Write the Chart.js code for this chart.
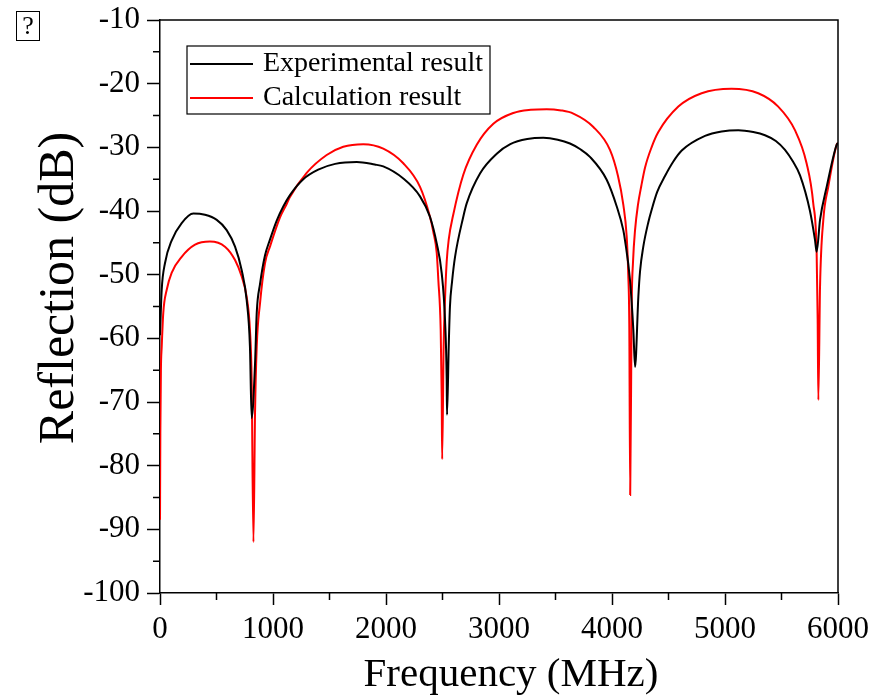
<!DOCTYPE html>
<html>
<head>
  <title>Reflection vs Frequency</title>
  <script src="https://cdn.jsdelivr.net/npm/chart.js"></script>
  <style>
    body { margin: 0; background: #fff; }
    .wrap { position: relative; width: 879px; height: 698px; }
    .mark { position: absolute; left: 16px; top: 11px; width: 22px; height: 28px; border: 1.5px solid #000;
            font: 26px "Liberation Serif", serif; line-height: 28px; text-align: center; }
  </style>
</head>
<body>
  <div class="wrap">
    <canvas id="chart" width="879" height="698"></canvas>
    <div class="mark">?</div>
  </div>

  <script>
    // values
    const expFreq = [0, 15, 44, 104, 192, 295, 398, 502, 590, 664, 723, 767, 796, 811,
      841, 856, 885, 929, 973, 1033, 1091, 1150, 1268, 1400, 1550, 1741, 1900, 1976, 2153, 2301, 2389, 2449, 2493, 2522, 2537, 2540,
      2555, 2566, 2585, 2611, 2684, 2714, 2832, 2980, 3100, 3250, 3392, 3520, 3628, 3720, 3805, 3953, 4042, 4100, 4115, 4159, 4189, 4204,
      4233, 4248, 4277, 4321, 4351, 4400, 4469, 4540, 4617, 4823, 4970, 5118, 5250, 5354, 5450, 5531, 5600, 5664, 5752, 5796, 5811,
      5841, 5900, 5988, 6000];
    const expDb = [-59.5, -52.4, -48.2, -44.6, -41.9, -40.4, -40.6, -41.4, -43.0, -45.6, -49.3, -54.0, -61.3, -72.5,
      -64.0, -56.0, -51.5, -47.0, -44.5, -41.5, -39.3, -37.5, -35.0, -33.5, -32.6, -32.3, -32.7, -33.0, -34.9, -37.7, -40.9, -45.1, -49.8, -57.0, -66.5, -72.0,
      -61.3, -55.0, -51.0, -47.2, -40.9, -38.8, -34.1, -31.0, -29.5, -28.7, -28.5, -28.8, -29.4, -30.3, -31.5, -35.1, -39.3, -43.0, -44.6, -50.8, -58.7, -64.5,
      -53.5, -49.5, -45.6, -41.8, -39.8, -37.0, -34.5, -32.3, -30.5, -28.2, -27.5, -27.3, -27.6, -28.1, -29.0, -30.4, -32.2, -34.4, -40.0, -44.5, -46.4,
      -41.4, -36.2, -29.6, -29.3];

    const calcFreq = [0, 3, 8, 15, 29, 59, 103, 192, 310, 442, 575, 664, 723, 767, 796, 811, 827,
      841, 856, 885, 929, 973, 1062, 1121, 1150, 1298, 1475, 1622, 1799, 1976, 2153, 2301, 2389, 2419, 2449, 2463, 2484, 2493, 2497,
      2510, 2522, 2537, 2555, 2596, 2684, 2803, 2950, 3127, 3280, 3422, 3550, 3658, 3835, 3982, 4053, 4100, 4130, 4144, 4153, 4161,
      4174, 4186, 4204, 4230, 4260, 4292, 4350, 4410, 4587, 4793, 5058, 5294, 5471, 5619, 5722, 5781, 5811, 5820, 5826,
      5841, 5870, 5914, 5988, 6000];
    const calcDb = [-88.5, -75.0, -65.0, -61.4, -56.0, -52.4, -49.7, -47.2, -45.3, -44.8, -45.6, -47.7, -50.3, -53.5, -58.7, -66.5, -92.0,
      -71.7, -61.3, -54.5, -48.2, -45.6, -41.0, -38.9, -37.8, -34.0, -31.2, -29.9, -29.5, -30.2, -32.5, -36.2, -40.9, -43.3, -46.6, -50.8, -58.7, -69.2, -79.0,
      -61.3, -54.0, -48.0, -44.5, -40.5, -34.3, -29.6, -26.3, -24.6, -24.1, -24.0, -24.2, -24.7, -26.8, -30.4, -34.5, -39.0, -44.0, -50.0, -58.0, -84.6,
      -55.0, -48.0, -43.0, -39.0, -36.0, -33.2, -30.0, -27.6, -23.6, -21.5, -20.8, -21.5, -23.6, -27.3, -32.5, -38.8, -46.6, -57.0, -69.7,
      -51.9, -41.4, -36.2, -29.6, -29.3];

    const xMinor = [500, 1500, 2500, 3500, 4500, 5500];
    const yMinor = [-15, -25, -35, -45, -55, -65, -75, -85, -95];
    const xTitle = 'Frequency (MHz)';
    const yTitle = 'Reflection (dB)';

    const serif = '"Liberation Serif", "Times New Roman", serif';

    function pts(xs, ys) {
      return xs.map((x, i) => ({ x: x, y: ys[i] }));
    }

    // frame on top/right, minor ticks, axis titles and the boxed legend
    const decor = {
      id: 'decor',
      afterDraw(chart) {
        const ctx = chart.ctx;
        const a = chart.chartArea;
        const xs = chart.scales.x, ys = chart.scales.y;
        ctx.save();
        ctx.strokeStyle = '#000';
        ctx.lineWidth = 1.5;
        ctx.beginPath();
        ctx.moveTo(a.left, a.top); ctx.lineTo(a.right, a.top); ctx.lineTo(a.right, a.bottom);
        xMinor.forEach(v => {
          const px = xs.getPixelForValue(v);
          ctx.moveTo(px, a.bottom); ctx.lineTo(px, a.bottom + 7);
        });
        yMinor.forEach(v => {
          const py = ys.getPixelForValue(v);
          ctx.moveTo(a.left, py); ctx.lineTo(a.left - 7, py);
        });
        ctx.stroke();

        // axis titles
        ctx.fillStyle = '#000';
        ctx.textAlign = 'center';
        ctx.textBaseline = 'alphabetic';
        ctx.font = '41px ' + serif;
        ctx.fillText(xTitle, a.left + 351, a.bottom + 93);
        ctx.save();
        ctx.translate(73, a.top + 268);
        ctx.rotate(-Math.PI / 2);
        ctx.font = '50px ' + serif;
        ctx.fillText(yTitle, 0, 0);
        ctx.restore();

        // legend
        const bx = a.left + 27, by = a.top + 26, bw = 303, bh = 68;
        ctx.lineWidth = 1.2;
        ctx.strokeRect(bx, by, bw, bh);
        ctx.font = '28px ' + serif;
        ctx.textAlign = 'left';
        ctx.textBaseline = 'middle';
        chart.data.datasets.forEach((ds, i) => {
          const ly = by + 18 + i * 34;
          ctx.strokeStyle = ds.borderColor;
          ctx.lineWidth = 2;
          ctx.beginPath();
          ctx.moveTo(bx + 3, ly); ctx.lineTo(bx + 66, ly);
          ctx.stroke();
          ctx.fillText(ds.label, bx + 76, ly);
        });
        ctx.restore();
      }
    };

    new Chart(document.getElementById('chart'), {
      type: 'line',
      data: {
        datasets: [
          {
            label: 'Experimental result',
            data: pts(expFreq, expDb),
            borderColor: '#000000',
            borderWidth: 2,
            pointRadius: 0,
            cubicInterpolationMode: 'monotone'
          },
          {
            label: 'Calculation result',
            data: pts(calcFreq, calcDb),
            borderColor: '#ff0000',
            borderWidth: 2,
            pointRadius: 0,
            cubicInterpolationMode: 'monotone'
          }
        ]
      },
      options: {
        responsive: false,
        animation: false,
        layout: { padding: { top: 20, right: 41, left: 0, bottom: 0 } },
        plugins: {
          legend: { display: false },
          tooltip: { enabled: false }
        },
        scales: {
          x: {
            type: 'linear',
            min: 0,
            max: 6000,
            afterFit: s => { s.height = 105; s.paddingLeft = 0; s.paddingRight = 0; },
            border: { color: '#000', width: 1.5 },
            grid: { drawOnChartArea: false, tickLength: 12, tickColor: '#000', tickWidth: 1.5 },
            ticks: { stepSize: 1000, color: '#000', padding: 6, font: { family: serif, size: 31 }, callback: v => String(v) }
          },
          y: {
            min: -100,
            max: -10,
            afterFit: s => { s.width = 160; s.paddingTop = 0; s.paddingBottom = 0; },
            border: { color: '#000', width: 1.5 },
            grid: { drawOnChartArea: false, tickLength: 13, tickColor: '#000', tickWidth: 1.5 },
            ticks: { stepSize: 10, color: '#000', padding: 7, font: { family: serif, size: 31 } }
          }
        }
      },
      plugins: [decor]
    });
  </script>
</body>
</html>
